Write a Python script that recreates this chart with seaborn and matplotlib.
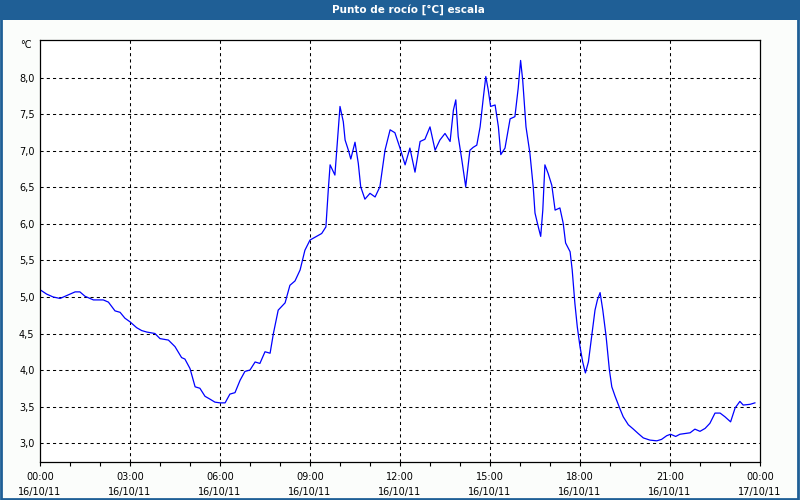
import numpy as np
import pandas as pd
import matplotlib
matplotlib.use("Agg")
import matplotlib.pyplot as plt
import seaborn as sns
from matplotlib.patches import Rectangle
from matplotlib.ticker import FuncFormatter, MultipleLocator

# dew point readings, hours since 16/10/11 00:00
hours = [0.00, 0.22, 0.44, 0.67, 0.89, 1.17, 1.33, 1.50, 1.78, 2.11, 2.28, 2.50, 2.67, 2.83,
         3.00, 3.22, 3.39, 3.56, 3.83, 4.00, 4.28, 4.50, 4.72, 4.83, 5.00, 5.17, 5.33, 5.50,
         5.67, 5.83, 6.00, 6.17, 6.33, 6.50, 6.67, 6.83, 7.00, 7.17, 7.33, 7.50, 7.67, 7.78,
         7.94, 8.17, 8.33, 8.50, 8.67, 8.83, 9.00, 9.22, 9.39, 9.53, 9.61, 9.67, 9.83, 9.91,
         10.00, 10.11, 10.17, 10.28, 10.36, 10.50, 10.61, 10.69, 10.83, 11.00, 11.17, 11.33,
         11.50, 11.67, 11.83, 12.00, 12.17, 12.33, 12.50, 12.67, 12.83, 13.00, 13.17, 13.33,
         13.50, 13.67, 13.78, 13.86, 13.94, 14.06, 14.19, 14.33, 14.44, 14.56, 14.67, 14.78,
         14.86, 14.94, 15.02, 15.17, 15.28, 15.36, 15.50, 15.67, 15.83, 15.94, 16.02, 16.09,
         16.20, 16.33, 16.44, 16.50, 16.61, 16.69, 16.76, 16.83, 16.94, 17.06, 17.17, 17.33,
         17.44, 17.52, 17.67, 17.74, 17.83, 17.91, 18.00, 18.09, 18.18, 18.28, 18.39, 18.50,
         18.58, 18.67, 18.76, 18.87, 18.98, 19.06, 19.17, 19.33, 19.44, 19.61, 19.78, 19.94,
         20.11, 20.33, 20.56, 20.72, 20.89, 21.02, 21.19, 21.33, 21.50, 21.67, 21.83, 22.00,
         22.17, 22.33, 22.50, 22.67, 22.83, 23.02, 23.17, 23.33, 23.44, 23.67, 23.83]
dew_point = [5.10, 5.04, 5.00, 4.98, 5.02, 5.07, 5.07, 5.01, 4.96, 4.96, 4.93, 4.81, 4.79, 4.71,
             4.66, 4.58, 4.54, 4.52, 4.50, 4.43, 4.41, 4.32, 4.17, 4.15, 4.02, 3.77, 3.75, 3.64,
             3.60, 3.56, 3.55, 3.55, 3.67, 3.69, 3.86, 3.98, 4.00, 4.11, 4.09, 4.25, 4.23, 4.50,
             4.82, 4.92, 5.16, 5.22, 5.37, 5.64, 5.78, 5.83, 5.87, 5.96, 6.47, 6.81, 6.67, 7.11,
             7.61, 7.40, 7.15, 7.01, 6.89, 7.12, 6.83, 6.51, 6.34, 6.42, 6.37, 6.51,
             7.01, 7.29, 7.25, 7.04, 6.81, 7.04, 6.71, 7.13, 7.16, 7.33, 7.01, 7.15,
             7.24, 7.13, 7.56, 7.70, 7.20, 6.88, 6.51, 7.01, 7.05, 7.08, 7.33, 7.74,
             8.02, 7.84, 7.61, 7.63, 7.33, 6.95, 7.04, 7.44, 7.47, 7.86, 8.24, 7.97,
             7.33, 6.97, 6.51, 6.15, 5.96, 5.83, 6.19, 6.81, 6.69, 6.53, 6.19, 6.22,
             6.01, 5.74, 5.62, 5.37, 4.91, 4.59, 4.32, 4.11, 3.96, 4.11, 4.46, 4.82,
             4.96, 5.06, 4.82, 4.46, 4.00, 3.77, 3.64, 3.47, 3.36, 3.25, 3.19, 3.13,
             3.07, 3.04, 3.03, 3.05, 3.10, 3.12, 3.09, 3.12, 3.13, 3.14, 3.19, 3.16,
             3.20, 3.27, 3.41, 3.41, 3.36, 3.29, 3.48, 3.57, 3.52, 3.53, 3.55]

tick_hours = [0, 3, 6, 9, 12, 15, 18, 21, 24]
tick_labels = ["00:00\n16/10/11", "03:00\n16/10/11", "06:00\n16/10/11", "09:00\n16/10/11",
               "12:00\n16/10/11", "15:00\n16/10/11", "18:00\n16/10/11", "21:00\n16/10/11",
               "00:00\n17/10/11"]
y_ticks = [3.0, 3.5, 4.0, 4.5, 5.0, 5.5, 6.0, 6.5, 7.0, 7.5, 8.0]

df = pd.DataFrame({"Hora": hours, "Punto de rocio": dew_point})

bar_blue = "#1f5f96"

fig = plt.figure(figsize=(8, 5), dpi=100, facecolor="#fbfdfb")
ax = fig.add_axes([0.05, 0.076, 0.90, 0.844])
ax.set_facecolor("white")

sns.lineplot(data=df, x="Hora", y="Punto de rocio", ax=ax, color="#0000ff", linewidth=0.9)

ax.set_xlim(0, 24)
ax.set_ylim(2.74, 8.52)
ax.set_xlabel("")
ax.set_ylabel("")

ax.set_xticks(tick_hours)
ax.set_xticklabels(tick_labels, fontsize=7, linespacing=1.6)
ax.xaxis.set_minor_locator(MultipleLocator(1))
ax.set_yticks(y_ticks)
ax.yaxis.set_major_formatter(FuncFormatter(lambda v, p: f"{v:.1f}".replace(".", ",")))
ax.tick_params(axis="y", length=0, pad=4, labelsize=7)
ax.tick_params(axis="x", which="both", length=3, width=0.8, direction="out", pad=4)

for h in tick_hours[1:-1]:
    ax.axvline(h, color="black", linewidth=0.75, linestyle=(0, (3, 3)), zorder=1)
for v in y_ticks:
    ax.axhline(v, color="black", linewidth=0.75, linestyle=(0, (3, 3)), zorder=1)

for s in ax.spines.values():
    s.set_color("black")
    s.set_linewidth(0.9)

ax.text(-0.012, 1.0, "°C", transform=ax.transAxes, ha="right", va="top", fontsize=7)

# title bar and window frame
fig.patches.append(Rectangle((0, 0.96), 1, 0.04, transform=fig.transFigure,
                             facecolor=bar_blue, edgecolor="none", zorder=0))
fig.patches.append(Rectangle((0.001, 0.002), 0.997, 0.996, transform=fig.transFigure,
                             facecolor="none", edgecolor=bar_blue, linewidth=2, zorder=5))
fig.text(0.51, 0.98, "Punto de rocío [°C] escala", color="white", fontsize=7.5,
         fontweight="bold", ha="center", va="center")

fig.savefig("out.png", dpi=100, facecolor=fig.get_facecolor())
